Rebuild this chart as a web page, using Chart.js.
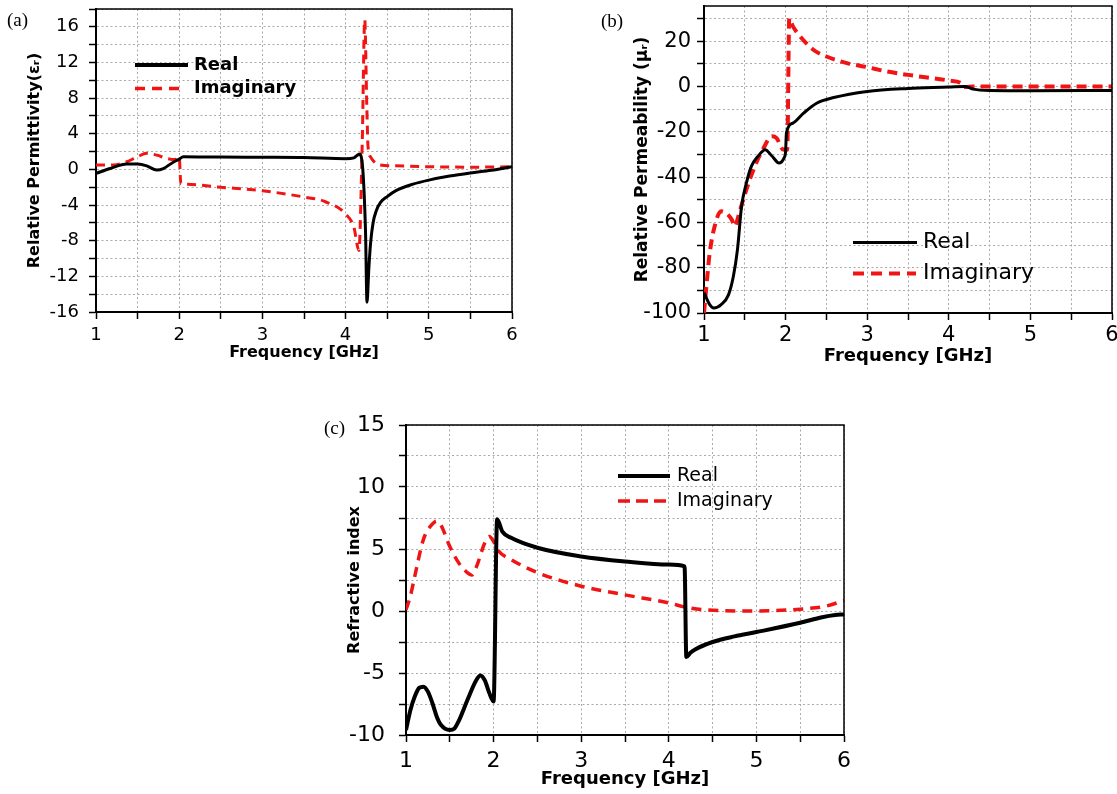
<!DOCTYPE html>
<html>
<head>
<meta charset="utf-8">
<script src="https://cdn.jsdelivr.net/npm/chart.js@4.4.0/dist/chart.umd.min.js"></script>
<style>
  body { margin: 0; background: #fff; width: 1117px; height: 794px; position: relative; overflow: hidden; }
  .panel { position: absolute; }
  .tag { position: absolute; font-family: "Liberation Serif", serif; font-size: 19px; color: #000; }
</style>
</head>
<body>
<div class="panel" style="left:0;top:0;width:530px;height:370px"><canvas id="js--chart--a"></canvas></div>
<div class="panel" style="left:600px;top:0;width:517px;height:370px"><canvas id="js--chart--b"></canvas></div>
<div class="panel" style="left:320px;top:400px;width:540px;height:394px"><canvas id="js--chart--c"></canvas></div>
<div class="tag" style="left:7px;top:9px">(a)</div>
<div class="tag" style="left:601px;top:10px">(b)</div>
<div class="tag" style="left:324px;top:417px">(c)</div>
<script>
//series names + axis text
const seriesNames = ['Real', 'Imaginary'];
const xTitle = 'Frequency [GHz]';
const yTitles = ['Relative Permittivity(\u03b5\u1d63)', 'Relative Permeability (\u03bc\u1d63)', 'Refractive index'];

//(a) permittivity
const freqAReal = [1.0, 1.17, 1.37, 1.5, 1.61, 1.73, 1.81, 1.91, 2.0, 2.05, 2.5, 3.0, 3.5, 4.0, 4.1, 4.17, 4.21, 4.24, 4.257, 4.28, 4.3, 4.33, 4.37, 4.42, 4.5, 4.61, 4.81, 5.0, 5.25, 5.5, 5.75, 6.0];
const realA = [-0.45, 0.1, 0.6, 0.6, 0.4, -0.08, 0.1, 0.7, 1.16, 1.43, 1.38, 1.36, 1.33, 1.2, 1.3, 1.73, -0.45, -7.2, -14.9, -11.0, -8.3, -6.0, -4.6, -3.7, -3.05, -2.35, -1.65, -1.2, -0.75, -0.4, -0.1, 0.3];
const freqAImag = [1.0, 1.21, 1.37, 1.5, 1.61, 1.73, 1.85, 1.95, 2.0, 2.02, 2.05, 2.5, 3.0, 3.5, 3.75, 4.0, 4.1, 4.16, 4.2, 4.23, 4.255, 4.27, 4.3, 4.35, 4.41, 4.6, 5.0, 5.5, 6.0];
const imagA = [0.5, 0.5, 0.86, 1.43, 1.8, 1.6, 1.24, 1.1, 1.4, -1.6, -1.65, -2.0, -2.4, -3.1, -3.6, -5.0, -6.5, -9.1, 3.0, 16.8, 7.0, 2.5, 1.4, 0.8, 0.5, 0.4, 0.3, 0.25, 0.3];

//(b) permeability
const freqBReal = [1.0, 1.07, 1.12, 1.21, 1.3, 1.36, 1.41, 1.46, 1.52, 1.58, 1.66, 1.75, 1.83, 1.92, 1.98, 2.0, 2.01, 2.09, 2.22, 2.38, 2.59, 3.0, 3.5, 4.0, 4.2, 4.3, 4.5, 5.0, 6.0];
const realB = [-91, -96.3, -97.8, -96.3, -92, -83.8, -72, -53, -42.6, -35.3, -30.9, -27.9, -30.6, -33.8, -31.6, -28.7, -20.6, -16.2, -11.8, -7.4, -4.9, -2.2, -0.9, -0.3, 0, -1.2, -1.8, -1.9, -1.8];
const freqBImag = [1.0, 1.03, 1.07, 1.13, 1.21, 1.27, 1.34, 1.38, 1.42, 1.48, 1.56, 1.64, 1.73, 1.83, 1.89, 1.97, 2.02, 2.045, 2.09, 2.18, 2.34, 2.5, 2.75, 3.0, 3.24, 3.5, 4.0, 4.15, 4.2, 4.3, 5.0, 6.0];
const imagB = [-100, -88, -73.5, -61.8, -55.1, -55.9, -58.8, -61.8, -57.4, -50, -41.2, -33.8, -27.2, -22, -22.8, -27.9, -28, 30, 26.5, 22, 16.2, 13.2, 10.3, 8.5, 6.6, 5.1, 2.6, 1.5, -0.3, 0, 0, 0];

//(c) refractive index
const freqCReal = [1.0, 1.05, 1.1, 1.15, 1.2, 1.25, 1.3, 1.35, 1.4, 1.5, 1.55, 1.6, 1.7, 1.8, 1.85, 1.9, 1.95, 2.0, 2.04, 2.1, 2.2, 2.5, 3.0, 3.5, 4.0, 4.18, 4.2, 4.25, 4.3, 4.5, 4.75, 5.0, 5.5, 5.75, 5.9, 6.0];
const realC = [-9.6, -8.0, -6.9, -6.2, -6.1, -6.5, -7.4, -8.5, -9.2, -9.6, -9.5, -8.9, -7.2, -5.6, -5.2, -5.6, -6.6, -7.3, 7.4, 6.4, 5.9, 5.1, 4.4, 4.0, 3.75, 3.6, -3.7, -3.35, -3.1, -2.5, -2.05, -1.7, -0.95, -0.5, -0.32, -0.28];
const freqCImag = [1.0, 1.05, 1.1, 1.2, 1.3, 1.35, 1.4, 1.5, 1.6, 1.7, 1.75, 1.8, 1.9, 1.95, 2.0, 2.05, 2.2, 2.5, 3.0, 3.5, 4.0, 4.2, 4.4, 5.0, 5.5, 5.8, 6.0];
const imagC = [0.1, 1.2, 2.8, 5.8, 7.0, 7.25, 6.9, 5.2, 3.9, 3.1, 2.9, 3.5, 5.5, 6.0, 5.6, 4.9, 4.15, 3.1, 2.0, 1.3, 0.65, 0.3, 0.1, 0.0, 0.15, 0.4, 0.85];

//axis ranges: [min, max, grid step, label step]
const xRange = [1, 6, 0.5, 1];
const yRangeA = [-16, 18, 2, 4];
const yRangeB = [-100, 35.5, 10, 20];
const yRangeC = [-10, 15, 2.5, 5];

const FONT = "'DejaVu Sans', sans-serif";
const RED = '#f01414';

const pts = (xs, ys) => xs.map((x, i) => ({ x: x, y: ys[i] }));

// top/right frame + legend inside plot
const decor = {
  id: 'decor',
  afterDraw(chart, args, opts) {
    const ctx = chart.ctx;
    const a = chart.chartArea;
    ctx.save();
    ctx.strokeStyle = '#000';
    ctx.lineWidth = 1.5;
    ctx.beginPath();
    ctx.moveTo(a.left, a.top);
    ctx.lineTo(a.right, a.top);
    ctx.lineTo(a.right, a.bottom);
    ctx.stroke();
    opts.items.forEach((it, i) => {
      ctx.strokeStyle = it.color;
      ctx.lineWidth = it.width;
      ctx.setLineDash(it.dash || []);
      ctx.beginPath();
      ctx.moveTo(opts.x1, it.y);
      ctx.lineTo(it.x2, it.y);
      ctx.stroke();
      ctx.setLineDash([]);
      ctx.fillStyle = '#000';
      ctx.font = opts.font;
      ctx.textBaseline = 'middle';
      ctx.fillText(seriesNames[i], opts.tx, it.y);
    });
    ctx.restore();
  }
};

function makePanel(id, p) {
  const tickFont = { family: FONT, size: p.tickSize };
  return new Chart(document.getElementById(id), {
    type: 'line',
    data: {
      datasets: [
        { label: seriesNames[0], data: pts(p.fr, p.re), borderColor: '#000', borderWidth: p.wReal, cubicInterpolationMode: 'monotone' },
        { label: seriesNames[1], data: pts(p.fi, p.im), borderColor: RED, borderWidth: p.wImag, borderDash: p.dash, cubicInterpolationMode: 'monotone' }
      ]
    },
    options: {
      responsive: true,
      maintainAspectRatio: false,
      animation: false,
      layout: { padding: { top: p.padTop, right: p.padRight, left: 0, bottom: 0 } },
      elements: { point: { radius: 0 } },
      plugins: { legend: { display: false }, tooltip: { enabled: false }, decor: p.legend },
      scales: {
        x: {
          type: 'linear', min: xRange[0], max: xRange[1],
          ticks: { stepSize: xRange[2], autoSkip: false, maxRotation: 0, padding: p.xPad, color: '#000', font: tickFont,
                   callback: v => (v % xRange[3] === 0 ? String(v) : '') },
          grid: { color: '#a9a9a9', lineWidth: 1, tickLength: 7, tickColor: '#000', tickWidth: 1.5 },
          border: { color: '#000', width: 2, dash: [2, 2.5] },
          title: { display: true, text: xTitle, color: '#000', font: { family: FONT, size: p.xTitleSize, weight: 'bold' }, padding: { top: 0, bottom: p.xTitlePad } },
          afterFit: s => { s.height = p.xHeight; s.paddingLeft = 0; s.paddingRight = 0; }
        },
        y: {
          min: p.yr[0], max: p.yr[1],
          ticks: { stepSize: p.yr[2], includeBounds: false, autoSkip: false, padding: p.yPad, color: '#000', font: tickFont,
                   callback: v => (v % p.yr[3] === 0 ? String(v) : '') },
          grid: { color: '#a9a9a9', lineWidth: 1, tickLength: 7, tickColor: '#000', tickWidth: 1.5 },
          border: { color: '#000', width: 2, dash: [2, 2.5] },
          title: { display: true, text: p.yTitle, color: '#000', font: { family: FONT, size: p.yTitleSize, weight: 'bold' }, padding: { top: p.yTitlePad, bottom: 0 } },
          afterFit: s => { s.width = p.yWidth; s.paddingTop = 0; s.paddingBottom = 0; }
        }
      }
    },
    plugins: [decor]
  });
}

const chartA = makePanel('js--chart--a', {
  fr: freqAReal, re: realA, fi: freqAImag, im: imagA, yr: yRangeA, yTitle: yTitles[0],
  wReal: 3, wImag: 3, dash: [9, 6],
  tickSize: 18, xPad: 6, yPad: 10, xTitleSize: 16, xTitlePad: 8, yTitleSize: 16, yTitlePad: 25,
  padTop: 9, padRight: 18, xHeight: 58, yWidth: 96,
  legend: { x1: 135, tx: 194, font: "bold 18px " + FONT, items: [
    { y: 65, x2: 188, color: '#000', width: 4 },
    { y: 88.5, x2: 180, color: RED, width: 3.5, dash: [10, 7] }
  ] }
});

const chartB = makePanel('js--chart--b', {
  fr: freqBReal, re: realB, fi: freqBImag, im: imagB, yr: yRangeB, yTitle: yTitles[1],
  wReal: 3, wImag: 4, dash: [10, 6],
  tickSize: 21, xPad: 3, yPad: 6, xTitleSize: 18, xTitlePad: 3, yTitleSize: 17, yTitlePad: 32,
  padTop: 6, padRight: 5, xHeight: 57, yWidth: 104,
  legend: { x1: 253, tx: 323, font: "22px " + FONT, items: [
    { y: 242.5, x2: 317, color: '#000', width: 3 },
    { y: 273.5, x2: 316, color: RED, width: 4, dash: [11, 7] }
  ] }
});

const chartC = makePanel('js--chart--c', {
  fr: freqCReal, re: realC, fi: freqCImag, im: imagC, yr: yRangeC, yTitle: yTitles[2],
  wReal: 4, wImag: 3.5, dash: [10, 7],
  tickSize: 22, xPad: 6, yPad: 14, xTitleSize: 18, xTitlePad: 4, yTitleSize: 16, yTitlePad: 25,
  padTop: 25, padRight: 16, xHeight: 59, yWidth: 86,
  legend: { x1: 298, tx: 357, font: "19px " + FONT, items: [
    { y: 76, x2: 350, color: '#000', width: 4 },
    { y: 101, x2: 350, color: RED, width: 3.5, dash: [12, 6] }
  ] }
});
</script>
</body>
</html>
